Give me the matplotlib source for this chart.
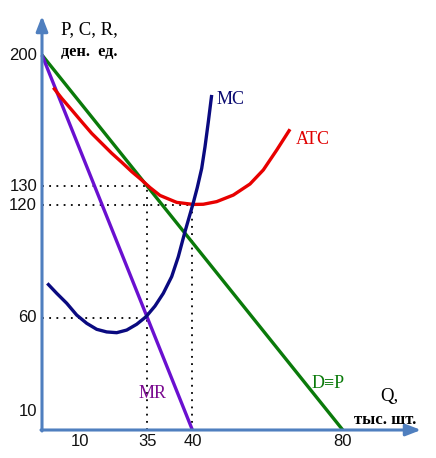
import matplotlib
matplotlib.use("Agg")
import matplotlib.pyplot as plt

# ---- data ----
demand_q = [0, 80]
demand_p = [200, 0]
mr_q = [0, 40]
mr_p = [200, 0]
mc_q = [1.41, 3.91, 6.57, 9.23, 11.89, 14.55, 17.21, 19.87, 22.53, 25.19, 27.66,
        30.05, 32.26, 34.49, 36.25, 38.03, 39.18, 40.24, 41.30, 42.47, 43.35, 44.23, 45.13]
mc_p = [78.2, 72.9, 67.6, 61.3, 56.9, 53.7, 52.3, 51.9, 53.3, 56.4, 60.4,
        66.1, 72.9, 81.8, 92.4, 105.8, 113.8, 121.2, 129.3, 139.5, 151.0, 164.3, 178.7]
atc_q = [3.01, 5.24, 7.90, 10.56, 13.22, 15.88, 18.54, 21.20, 23.86, 26.52, 28.72,
         31.38, 35.82, 40.24, 42.90, 46.46, 50.88, 55.32, 58.86, 62.42, 65.96]
atc_p = [182.6, 176.9, 170.7, 164.4, 158.2, 152.9, 147.6, 142.8, 137.8, 133.3, 129.3,
         125.1, 121.4, 120.3, 120.4, 121.8, 125.3, 131.2, 138.7, 149.3, 160.4]
x_tick_pos = [10, 28, 40, 80]
x_tick_labels = ["10", "35", "40", "80"]
y_tick_pos = [200, 130, 120, 60, 10]
y_tick_labels = ["200", "130", "120", "60", "10"]
q_opt = 28     # equilibrium Q (labelled 35)
p_opt = 130
mc_eq = 60
q_min = 40
p_min = 120

W, H = 436, 458
X0, Y0 = 42, 430          # pixel position of origin
SX, SY = 3.76, 1.875      # pixels per unit

fig = plt.figure(figsize=(W / 100, H / 100), dpi=100)
ax = fig.add_axes([0, 0, 1, 1])
ax.set_xlim(-X0 / SX, (W - X0) / SX)
ax.set_ylim((Y0 - H) / SY, Y0 / SY)
ax.axis("off")


def px(x, y):
    return (x - X0) / SX, (Y0 - y) / SY


axis_col = "#4f7fbf"
serif = "Liberation Serif"
sans = "Liberation Sans"

# axes arrows
ax.annotate("", xy=px(42, 16), xytext=px(42, 431),
            arrowprops=dict(arrowstyle="-|>,head_length=0.9,head_width=0.35",
                            color=axis_col, lw=2.2, shrinkA=0, shrinkB=0))
ax.annotate("", xy=px(421, 430), xytext=px(41, 430),
            arrowprops=dict(arrowstyle="-|>,head_length=0.9,head_width=0.35",
                            color=axis_col, lw=2.2, shrinkA=0, shrinkB=0))

# dotted guide lines
dot = dict(color="black", lw=1.3, linestyle=(0, (1, 3)))
ax.plot([0, q_opt], [p_opt, p_opt], **dot)
ax.plot([0, q_min], [p_min, p_min], **dot)
ax.plot([0, q_opt], [mc_eq, mc_eq], **dot)
ax.plot([q_opt, q_opt], [0, p_opt], **dot)
ax.plot([q_min, q_min], [0, p_min], **dot)

# curves
lw = 2.4
ax.plot(demand_q, demand_p, color="#0a7a0a", lw=lw, solid_capstyle="butt")
ax.plot(mr_q, mr_p, color="#6a10d0", lw=lw, solid_capstyle="butt")
ax.plot(atc_q, atc_p, color="#e80000", lw=lw, solid_capstyle="butt", solid_joinstyle="round")
ax.plot(mc_q, mc_p, color="#0a0a80", lw=lw, solid_capstyle="butt", solid_joinstyle="round")

# tick labels
for v, lab in zip(y_tick_pos, y_tick_labels):
    ax.text(px(37, 0)[0], v, lab, ha="right", va="center", fontsize=12,
            family=sans, color="#111111")
for v, lab in zip(x_tick_pos, x_tick_labels):
    ax.text(v, px(0, 441)[1], lab, ha="center", va="center", fontsize=12,
            family=sans, color="#111111")

# axis titles
ax.text(*px(61, 30), "P, C, R,", ha="left", va="center", fontsize=13.5, family=serif)
ax.text(*px(61, 52), "ден.  ед.", ha="left", va="center", fontsize=11.8,
        family=serif, fontweight="bold")
ax.text(*px(380, 397), "Q,", ha="left", va="center", fontsize=13.5, family=serif)
ax.text(*px(354, 420), "тыс. шт.", ha="left", va="center", fontsize=12,
        family=serif, fontweight="bold")

# curve labels
ax.text(*px(217, 99), "MC", ha="left", va="center", fontsize=13, family=serif, color="#0a0a70")
ax.text(*px(296, 139), "ATC", ha="left", va="center", fontsize=13, family=serif, color="#e00000")
ax.text(*px(139, 393), "MR", ha="left", va="center", fontsize=13, family=serif, color="#7a0a90")
ax.text(*px(312, 383), "D≡P", ha="left", va="center", fontsize=13,
        family=[serif, "DejaVu Serif"], color="#0a7a0a")

fig.savefig("out.png", dpi=100)
